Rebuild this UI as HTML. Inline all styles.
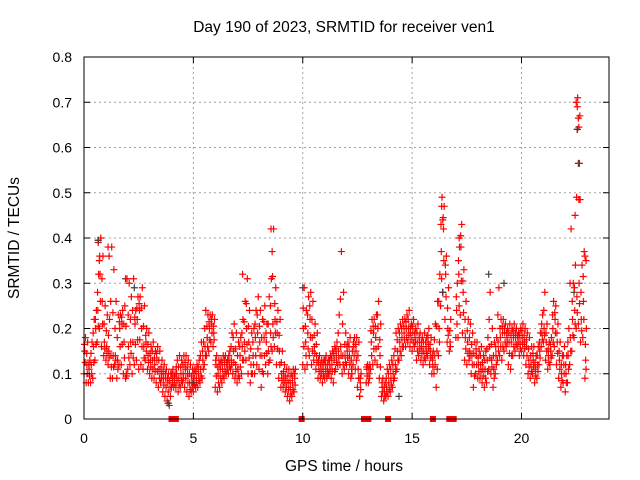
<!DOCTYPE html>
<html><head><meta charset="utf-8"><style>
body{margin:0;background:#fff}
svg{display:block;font-family:"Liberation Sans",sans-serif}
</style></head><body>
<svg id="chart" width="640" height="480" viewBox="0 0 640 480">
<rect width="640" height="480" fill="#fff"/>
<g id="grid"></g>
<g id="pts"></g>
<g id="axes"></g>
<text x="344" y="32" font-size="15.5" text-anchor="middle">Day 190 of 2023, SRMTID for receiver ven1</text>
<text x="344" y="471" font-size="15.5" text-anchor="middle">GPS time / hours</text>
<text transform="translate(19,238) rotate(-90)" font-size="15.5" text-anchor="middle">SRMTID / TECUs</text>
</svg>
<script>
const xTicks=[0,5,10,15,20];
const yTicks=[0,0.1,0.2,0.3,0.4,0.5,0.6,0.7,0.8];
const yTickLabels=["0","0.1","0.2","0.3","0.4","0.5","0.6","0.7","0.8"];
const times=[0.0,0.1,0.2,0.3,0.4,0.5,0.6,0.7,0.8,0.9,1.0,1.1,1.2,1.3,1.4,1.5,1.6,1.7,1.8,1.9,2.0,2.1,2.2,2.3,2.4,2.5,2.6,2.7,2.8,2.9,3.0,3.1,3.2,3.3,3.4,3.5,3.6,3.7,3.8,3.9,4.0,4.1,4.2,4.3,4.4,4.5,4.6,4.7,4.8,4.9,5.0,5.1,5.2,5.3,5.4,5.5,5.6,5.7,5.8,5.9,6.0,6.1,6.2,6.3,6.4,6.5,6.6,6.7,6.8,6.9,7.0,7.1,7.2,7.3,7.4,7.5,7.6,7.7,7.8,7.9,8.0,8.1,8.2,8.3,8.4,8.5,8.6,8.7,8.8,8.9,9.0,9.1,9.2,9.3,9.4,9.5,9.6,10.0,10.1,10.2,10.3,10.4,10.5,10.6,10.7,10.8,10.9,11.0,11.1,11.2,11.3,11.4,11.5,11.6,11.7,11.8,11.9,12.0,12.1,12.2,12.3,12.4,12.5,12.6,12.9,13.0,13.1,13.2,13.3,13.4,13.5,13.6,13.7,13.8,13.9,14.0,14.1,14.2,14.3,14.4,14.5,14.6,14.7,14.8,14.9,15.0,15.1,15.2,15.3,15.4,15.5,15.6,15.7,15.8,15.9,16.0,16.1,16.2,16.3,16.4,16.5,16.6,16.7,17.0,17.1,17.2,17.3,17.4,17.5,17.6,17.7,17.8,17.9,18.0,18.1,18.2,18.3,18.4,18.5,18.6,18.7,18.8,18.9,19.0,19.1,19.2,19.3,19.4,19.5,19.6,19.7,19.8,19.9,20.0,20.1,20.2,20.3,20.4,20.5,20.6,20.7,20.8,20.9,21.0,21.1,21.2,21.3,21.4,21.5,21.6,21.7,21.8,21.9,22.0,22.1,22.2,22.3,22.4,22.5,22.6,22.7,22.8,22.9];
const lowVals=[10,8,8,8,9,13,17,20,16,14,13,12,9,9,12,9,12,12,10,9,11,12,10,12,13,11,12,11,13,11,10,9,9,8,7,8,6,5,4,3,7,7,7,6,7,8,7,6,5,6,6,7,7,8,9,12,14,15,17,16,7,6,7,8,9,10,10,11,10,9,8,9,10,13,13,10,8,10,10,12,11,7,10,12,10,13,15,16,12,9,7,7,6,5,4,5,6,12,11,12,14,12,13,11,9,9,8,9,9,10,9,8,11,12,12,10,11,12,10,9,12,11,7,5,8,8,11,12,13,12,9,5,4,5,5,6,7,9,11,13,14,16,16,17,16,15,16,13,14,13,12,13,14,12,10,10,7,14,25,28,22,17,15,18,18,23,19,13,12,13,10,7,10,9,9,8,7,8,11,10,7,10,13,14,13,15,16,12,11,14,15,16,14,15,14,12,10,9,10,8,9,12,16,17,13,11,12,14,16,12,9,7,8,6,8,12,15,18,20,21,17,18,9];
const midVals=[15,12,11,12,16,20,24,32,26,17,16,15,14,14,14,13,20,21,17,10,16,17,17,21,22,24,20,16,17,14,13,13,12,13,11,10,9,9,8,7,9,9,10,9,10,10,11,10,8,8,9,9,10,11,13,16,18,20,21,19,12,10,11,11,12,12,13,13,15,12,11,14,16,17,20,17,12,14,18,19,17,14,18,17,15,19,21,22,19,15,10,9,8,8,7,8,9,20,17,19,22,18,16,14,12,11,11,12,11,12,12,13,14,15,16,14,14,15,14,11,16,15,11,8,11,10,17,19,18,20,14,7,6,7,8,9,10,12,15,17,18,19,20,20,19,19,18,17,17,16,15,16,17,15,13,14,15,20,37,42,32,20,17,24,32,38,28,18,17,15,14,12,14,12,12,11,11,13,16,13,11,14,17,18,19,19,18,17,17,18,18,18,17,18,17,16,13,12,13,11,12,15,19,20,17,14,15,20,22,17,13,10,12,10,14,18,22,24,27,30,22,26,13];
const highVals=[18,17,13,17,22,24,32,40,36,25,23,22,38,33,26,23,23,24,25,31,30,27,31,24,27,27,29,25,20,19,16,17,15,16,15,13,12,11,10,10,11,10,13,14,13,14,14,13,12,11,11,12,13,17,17,24,23,23,23,22,14,13,13,14,14,13,15,19,21,19,17,18,22,26,31,24,19,20,24,27,24,22,25,21,27,31,42,29,24,22,15,12,11,11,10,11,11,29,24,27,28,26,21,19,14,13,13,14,13,14,15,16,17,23,37,28,19,17,18,15,18,18,17,10,12,12,22,22,23,26,21,9,8,11,12,13,14,19,20,21,22,22,23,24,21,22,20,21,19,18,19,18,20,18,15,21,26,32,49,47,36,29,22,30,38,43,33,26,22,21,19,17,17,15,16,14,15,18,28,20,17,18,29,22,22,21,20,21,20,21,20,19,20,21,20,19,18,16,16,14,16,19,23,28,21,17,18,26,25,21,17,14,16,14,20,42,30,34,71,67,34,37,20];
const outlierX=[0.65,0.7,1.1,1.15,7.25,8.55,8.6,16.35,16.4,17.15,22.45,22.5,22.55,22.6,22.62,22.65,22.68,22.9,22.95];
const outlierY=[0.39,0.35,0.38,0.36,0.32,0.42,0.37,0.47,0.44,0.40,0.45,0.70,0.69,0.665,0.645,0.565,0.485,0.36,0.35];
const grayX=[0.65,1.9,2.3,3.85,10.0,12.6,16.4,18.5,19.2,22.55,22.6,22.4,5.0,14.4];
const grayY=[0.395,0.31,0.29,0.035,0.29,0.05,0.28,0.32,0.30,0.64,0.565,0.28,0.08,0.05];
const zeroX=[4.0,4.2,9.95,12.8,13.0,13.9,15.95,16.7,16.9];

const L=84,R=609,T=57,B=419,NS="http://www.w3.org/2000/svg";
const xs=v=>L+(v/24)*(R-L);
const ys=v=>B-(v/0.8)*(B-T);
function mk(tag,attrs,parent){const e=document.createElementNS(NS,tag);for(const k in attrs)e.setAttribute(k,attrs[k]);parent.appendChild(e);return e;}
const grid=document.getElementById('grid'),axes=document.getElementById('axes'),pts=document.getElementById('pts');
yTicks.forEach((v,i)=>{
  const y=ys(v);
  if(i>0&&i<yTicks.length-1){const g=mk('line',{x1:L,x2:R,y1:y,y2:y,stroke:'#a0a0a0','stroke-dasharray':'2,3','stroke-width':1},grid);
  
  }
  const t=mk('line',{x1:L,x2:L+6,y1:y,y2:y,stroke:'#000'},axes);
  
  
  const t2=mk('line',{x1:R-6,x2:R,y1:y,y2:y,stroke:'#000'},axes);
  
  
  const lb=mk('text',{x:L-12,y:y+5,'font-size':'14','text-anchor':'end'},axes);
  lb.textContent=yTickLabels[i];
  
  
});
xTicks.forEach(v=>{
  const x=xs(v);
  if(v>0){const g=mk('line',{x1:x,x2:x,y1:T,y2:B,stroke:'#a0a0a0','stroke-dasharray':'2,3','stroke-width':1},grid);
  
  }
  const t=mk('line',{x1:x,x2:x,y1:B-6,y2:B,stroke:'#000'},axes);
  
  
  const t2=mk('line',{x1:x,x2:x,y1:T,y2:T+6,stroke:'#000'},axes);
  
  
  const lb=mk('text',{x:x,y:B+24,'font-size':'14','text-anchor':'middle'},axes);
  lb.textContent=String(v);
  
  
});
const fr=mk('rect',{x:L,y:T,width:R-L,height:B-T,fill:'none',stroke:'#000','stroke-width':1},axes);



function plus(x,y,color,name){
  const p=mk('path',{d:`M${x-3.5},${y}h7M${x},${y-3.5}v7`,stroke:color,'stroke-width':1.2,fill:'none'},pts);
  
  
}
grayX.forEach((x,i)=>plus(xs(x),ys(grayY[i]),'#404040','srmtid-gray-point'));
times.forEach((t,i)=>{
  plus(xs(t),ys(lowVals[i]/100),'#ff0000','srmtid-point');
  plus(xs(t+0.033),ys(midVals[i]/100),'#ff0000','srmtid-point');
  plus(xs(t+0.066),ys(highVals[i]/100),'#ff0000','srmtid-point');
  plus(xs(t+0.05),ys((lowVals[i]+midVals[i])/200),'#ff0000','srmtid-point');
  plus(xs(t+0.02),ys((midVals[i]+highVals[i])/200),'#ff0000','srmtid-point');
});
outlierX.forEach((x,i)=>plus(xs(x),ys(outlierY[i]),'#ff0000','srmtid-point'));
grayX.forEach((x,i)=>{ if(i%3===0) plus(xs(x),ys(grayY[i]),'#404040','srmtid-gray-point'); });
zeroX.forEach(x=>{
  const r=mk('rect',{x:xs(x)-3,y:B-3,width:6,height:6,fill:'#ff0000'},pts);
  
  
});
</script>
</body></html>
